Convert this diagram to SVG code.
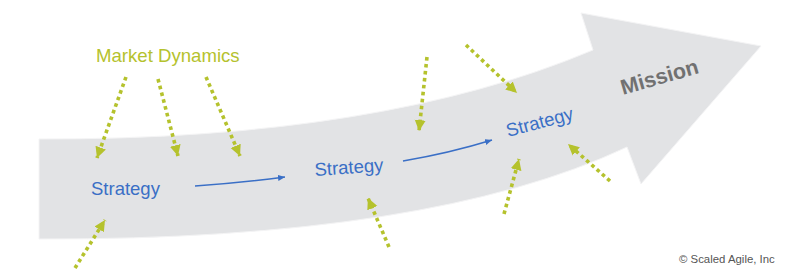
<svg xmlns="http://www.w3.org/2000/svg" width="800" height="272" viewBox="0 0 800 272">
  <style>
    .green { fill: none; stroke: #b5c22d; stroke-width: 3.6; stroke-dasharray: 3.6 3.4; marker-end: url(#gHead); }
    .blue { fill: none; stroke: #3a6fc6; stroke-width: 1.6; marker-end: url(#bHead); }
    .strat { font-family: "Liberation Sans", Arial, sans-serif; font-size: 18.5px; fill: #3a6fc6; }
  </style>
  <defs>
    <marker id="gHead" markerUnits="userSpaceOnUse" markerWidth="12" markerHeight="12" refX="11" refY="6" orient="auto">
      <path d="M0,0.5 L11,6 L0,11.5 Z" fill="#b5c22d"/>
    </marker>
    <marker id="bHead" markerUnits="userSpaceOnUse" markerWidth="8" markerHeight="8" refX="7" refY="3.5" orient="auto">
      <path d="M0,0.5 L7,3.5 L0,6.5 Z" fill="#3a6fc6"/>
    </marker>
  </defs>
  <rect width="800" height="272" fill="#ffffff"/>
  <g id="mission-arrow">
    <path d="M39,139 Q380,140 593,50 L581,13 L761,46 L641,184 L627,147 Q430,240 39,239 Z" fill="#e2e3e5" stroke="#f4f4f5" stroke-width="1"/>
  </g>
  <g id="connectors">
    <path class="green" d="M126,77 L97,158"/>
    <path class="green" d="M158,79 L178,156"/>
    <path class="green" d="M206,77 L240,156"/>
    <path class="green" d="M75,268 L105,220"/>
    <path class="green" d="M389,247 L368,198"/>
    <path class="green" d="M427,57 L419,131"/>
    <path class="green" d="M466,45 L517,93"/>
    <path class="green" d="M504,214 L519,159"/>
    <path class="green" d="M610,181 L568,144"/>
    <path class="blue" d="M195,186 Q240,183 285,177"/>
    <path class="blue" d="M403,161 Q450,153 492,140"/>
  </g>
  <g id="market-dynamics">
    <text x="96" y="62" font-family="Liberation Sans, Arial, sans-serif" font-size="18.6" fill="#b5c22d">Market Dynamics</text>
  </g>
  <g id="strategy-1">
    <text class="strat" x="91" y="195">Strategy</text>
  </g>
  <g id="strategy-2">
    <text class="strat" x="315" y="176" transform="rotate(-4 315 176)">Strategy</text>
  </g>
  <g id="strategy-3">
    <text class="strat" x="508" y="137" transform="rotate(-15 508 137)">Strategy</text>
  </g>
  <g id="mission">
    <text x="623" y="95" transform="rotate(-16 623 95)" font-family="Liberation Sans, Arial, sans-serif" font-size="21.5" font-weight="bold" fill="#717171">Mission</text>
  </g>
  <g id="copyright">
    <text x="679" y="263" font-family="Liberation Sans, Arial, sans-serif" font-size="11.4" fill="#555555">© Scaled Agile, Inc</text>
  </g>
</svg>
